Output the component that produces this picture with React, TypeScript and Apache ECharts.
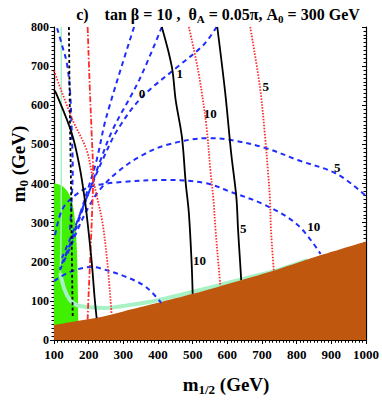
import React, { useEffect, useRef } from "react";
import * as echarts from "echarts";

// ---- data (m_1/2 [GeV], m_0 [GeV]) ----
const brownBoundary = [[100, 38], [150, 46], [220, 56], [300, 73], [400, 95], [500, 118], [640, 153], [740, 179], [870, 217], [1000, 252]];
const greenRegion = [[100, 400], [110, 399], [125, 393], [140, 378], [150, 358], [157, 330], [162, 290], [165, 250], [167, 200], [169, 120], [170, 45], [170.5, 0]];
const mintVertical = [[121, 800], [121, 600], [121, 400], [120, 250], [118, 171]];
const mintBand = [[118, 171], [130, 130], [146, 102], [166, 89], [200, 84], [251, 82], [300, 87], [374, 97], [440, 110], [546, 133], [650, 157], [750, 180], [831, 204]];

const blackDashed = [[143, 800], [146, 560], [149, 400], [151, 250], [154, 60]];
const blackA = [[100, 639], [106, 631], [151, 529], [174, 442], [189, 358], [197, 299], [209, 197], [217, 110], [223, 56]];
const blackB = [[411, 800], [440, 698], [451, 613], [469, 519], [480, 401], [489, 325], [497, 197], [500, 118]];
const blackC = [[571, 800], [594, 631], [611, 478], [626, 365], [631, 281], [637, 197], [640, 153]];

const redDotted1 = [[100, 688], [154, 562], [194, 486], [211, 417], [226, 358], [240, 299], [254, 197], [266, 68]];
const redDashDot = [[197, 800], [203, 650], [209, 520], [213, 420], [210, 330], [205, 220], [200, 120], [197, 52]];
const redDotted10 = [[489, 800], [517, 683], [540, 544], [551, 435], [560, 358], [566, 281], [574, 197], [580, 138]];
const redDotted5 = [[666, 800], [694, 647], [709, 519], [717, 434], [723, 358], [726, 281], [734, 178]];

const blue0 = [[109, 797], [123, 754], [137, 708], [146, 639], [151, 537], [154, 435], [151, 358], [146, 281]];
const blueA = [[331, 800], [251, 570], [223, 460], [197, 383], [174, 319], [151, 256], [126, 199]];
const blueB = [[411, 800], [346, 665], [269, 537], [231, 452], [203, 383], [174, 312], [146, 243], [117, 184]];
const blueC = [[569, 800], [531, 754], [463, 703], [354, 621], [283, 537], [240, 460], [209, 396], [180, 332], [151, 268], [123, 210]];
const blueD = [[117, 179], [146, 235], [174, 294], [203, 345], [231, 383], [280, 427], [346, 468], [423, 498], [546, 516], [611, 511], [709, 491], [803, 460], [917, 424], [1000, 368]];
const blueE = [[103, 268], [123, 332], [154, 365], [203, 391], [297, 404], [423, 409], [537, 401], [611, 378], [709, 345], [803, 294], [869, 220]];
const blueF = [[100, 151], [146, 174], [211, 187], [231, 184], [309, 161], [366, 135], [409, 95]];

const curveLabels = [
  { name: "1", value: [463, 682] },
  { name: "0", value: [354, 631] },
  { name: "10", value: [551, 578] },
  { name: "5", value: [711, 647] },
  { name: "5", value: [917, 440] },
  { name: "10", value: [849, 289] },
  { name: "10", value: [520, 202] },
  { name: "5", value: [646, 284] },
];

const SERIF = '"Liberation Serif", "DejaVu Serif", "Times New Roman", serif';
const BLUE = "#1f2dff";
const RED = "#ff2a2a";
const GREEN = "#3ff000";
const BROWN = "#bf570f";
const MINT = "#a6f2c4";

function curve(data: number[][], color: string, type: any, width: number, z: number, smooth: number = 0.35) {
  return {
    type: "line",
    data,
    symbol: "none",
    showSymbol: false,
    smooth,
    silent: true,
    lineStyle: { color, type, width },
    z,
  };
}

export default function App() {
  const ref = useRef<HTMLDivElement>(null);
  useEffect(() => {
    if (!ref.current) return;
    const chart = echarts.init(ref.current, undefined, { renderer: "svg" });
    const axisCommon = {
      type: "value",
      splitLine: { show: false },
      axisLine: { show: true, lineStyle: { color: "#000", width: 1.2 } },
    };
    const plain = (v: number) => String(v);
    chart.setOption({
      animation: false,
      backgroundColor: "#fff",
      grid: { left: 54, top: 27, width: 315, height: 313, containLabel: false },
      xAxis: [
        {
          ...axisCommon,
          min: 100,
          max: 1000,
          interval: 100,
          position: "bottom",
          axisTick: { show: true, inside: false, length: 4, lineStyle: { color: "#000" } },
          minorTick: { show: true, splitNumber: 10, length: 2.5, lineStyle: { color: "#000" } },
          axisLabel: { color: "#000", fontFamily: SERIF, fontWeight: "bold", fontSize: 13, margin: 8, formatter: plain },
        },
        {
          ...axisCommon,
          min: 100,
          max: 1000,
          interval: 100,
          position: "top",
          axisTick: { show: true, inside: true, length: 4, lineStyle: { color: "#000" } },
          minorTick: { show: true, splitNumber: 10, length: 2.5, lineStyle: { color: "#000" } },
          axisLabel: { show: false },
        },
      ],
      yAxis: [
        {
          ...axisCommon,
          min: 0,
          max: 800,
          interval: 100,
          position: "left",
          axisTick: { show: true, inside: false, length: 4, lineStyle: { color: "#000" } },
          minorTick: { show: true, splitNumber: 10, length: 2.5, lineStyle: { color: "#000" } },
          axisLabel: { color: "#000", fontFamily: SERIF, fontWeight: "bold", fontSize: 12, margin: 5, formatter: plain },
        },
        {
          ...axisCommon,
          min: 0,
          max: 800,
          interval: 100,
          position: "right",
          axisTick: { show: true, inside: true, length: 4, lineStyle: { color: "#000" } },
          minorTick: { show: true, splitNumber: 10, length: 2.5, lineStyle: { color: "#000" } },
          axisLabel: { show: false },
        },
      ],
      series: [
        {
          type: "line",
          data: greenRegion,
          symbol: "none",
          smooth: 0.3,
          silent: true,
          lineStyle: { width: 0, color: GREEN },
          areaStyle: { color: GREEN, opacity: 1 },
          z: 1,
        },
        curve(mintVertical, MINT, "solid", 1.5, 2),
        curve(mintBand, MINT, "solid", 4, 2),
        {
          type: "line",
          data: brownBoundary,
          symbol: "none",
          smooth: 0.3,
          silent: true,
          lineStyle: { width: 0, color: BROWN },
          areaStyle: { color: BROWN, opacity: 1 },
          z: 3,
        },
        curve(blue0, BLUE, [5, 4], 2, 4),
        curve(blueA, BLUE, [5, 4], 2, 4),
        curve(blueB, BLUE, [5, 4], 2, 4),
        curve(blueC, BLUE, [5, 4], 2, 4),
        curve(blueD, BLUE, [5, 4], 2, 4),
        curve(blueE, BLUE, [5, 4], 2, 4),
        curve(blueF, BLUE, [5, 4], 2, 4),
        curve(redDotted1, RED, [1.5, 1.5], 1.8, 5),
        curve(redDashDot, RED, [6, 2, 1.5, 2], 1.8, 5),
        curve(redDotted10, RED, [1.5, 1.5], 1.8, 5),
        curve(redDotted5, RED, [1.5, 1.5], 1.8, 5),
        curve(blackDashed, "#000", [3, 2.5], 1.8, 6),
        curve(blackA, "#000", "solid", 1.8, 6),
        curve(blackB, "#000", "solid", 1.8, 6),
        curve(blackC, "#000", "solid", 1.8, 6),
        {
          type: "scatter",
          data: curveLabels,
          symbolSize: 0,
          silent: true,
          z: 10,
          itemStyle: { opacity: 1, color: "#000" },
          label: {
            show: true,
            position: "inside",
            formatter: (p: any) => p.name,
            color: "#000",
            opacity: 1,
            textBorderWidth: 0,
            fontFamily: SERIF,
            fontWeight: "bold",
            fontSize: 13,
          },
        },
      ],
      graphic: [
        {
          type: "text",
          x: 218,
          y: 14,
          style: {
            text: "{b|c)    tan β = 10 ,  θ}{s|A}{b| = 0.05π, A}{s|0}{b| = 300 GeV}",
            align: "center",
            verticalAlign: "middle",
            rich: {
              b: { fontFamily: SERIF, fontWeight: "bold", fontSize: 16, fill: "#000", lineHeight: 20, verticalAlign: "middle" },
              s: { fontFamily: SERIF, fontWeight: "bold", fontSize: 11, fill: "#000", lineHeight: 11, verticalAlign: "bottom" },
            },
          },
        },
        {
          type: "text",
          x: 226,
          y: 384,
          style: {
            text: "{b|m}{s|1/2}{b| (GeV)}",
            align: "center",
            verticalAlign: "middle",
            rich: {
              b: { fontFamily: SERIF, fontWeight: "bold", fontSize: 19, fill: "#000", lineHeight: 24, verticalAlign: "middle" },
              s: { fontFamily: SERIF, fontWeight: "bold", fontSize: 13, fill: "#000", lineHeight: 13, verticalAlign: "bottom" },
            },
          },
        },
        {
          type: "text",
          x: 18,
          y: 164,
          rotation: Math.PI / 2,
          style: {
            text: "{b|m}{s|0}{b| (GeV)}",
            align: "center",
            verticalAlign: "middle",
            rich: {
              b: { fontFamily: SERIF, fontWeight: "bold", fontSize: 19, fill: "#000", lineHeight: 24, verticalAlign: "middle" },
              s: { fontFamily: SERIF, fontWeight: "bold", fontSize: 13, fill: "#000", lineHeight: 13, verticalAlign: "bottom" },
            },
          },
        },
      ],
    });
    return () => chart.dispose();
  }, []);
  return <div ref={ref} style={{ position: "fixed", left: 0, top: 0, width: 382, height: 402, background: "#fff" }} />;
}
